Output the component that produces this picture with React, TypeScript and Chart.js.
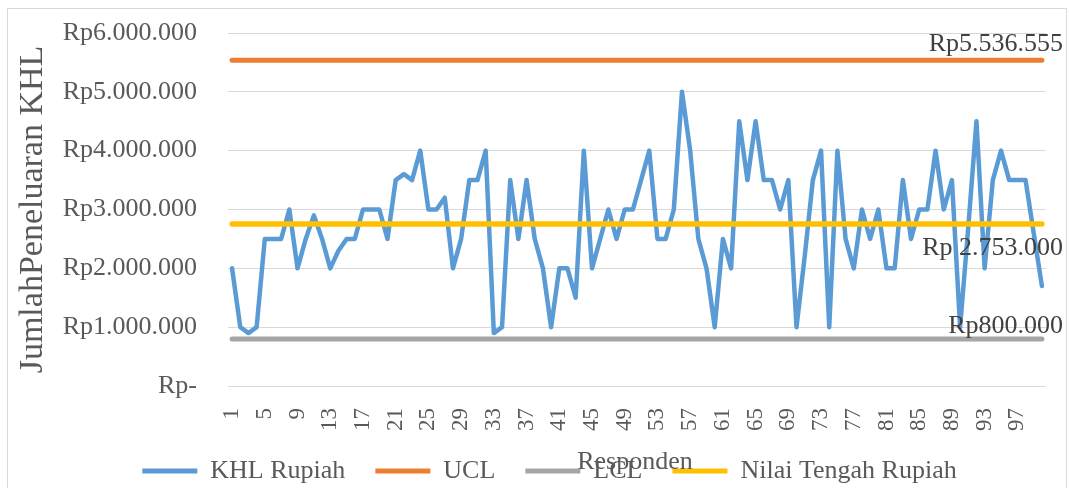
import React, { useEffect, useRef } from 'react';
import { Chart, registerables } from 'chart.js';

Chart.register(...registerables);

// ---- data ----
const respondents: string[] = Array.from({ length: 100 }, (_, i) => String(i + 1));
const xTickLabels: string[] = ['1', '5', '9', '13', '17', '21', '25', '29', '33', '37', '41', '45', '49', '53', '57', '61', '65', '69', '73', '77', '81', '85', '89', '93', '97'];

const khlRupiah: number[] = [
  2000000, 1000000, 900000, 1000000, 2500000, 2500000, 2500000, 3000000, 2000000, 2500000,
  2900000, 2500000, 2000000, 2300000, 2500000, 2500000, 3000000, 3000000, 3000000, 2500000,
  3500000, 3600000, 3500000, 4000000, 3000000, 3000000, 3200000, 2000000, 2500000, 3500000,
  3500000, 4000000, 900000, 1000000, 3500000, 2500000, 3500000, 2500000, 2000000, 1000000,
  2000000, 2000000, 1500000, 4000000, 2000000, 2500000, 3000000, 2500000, 3000000, 3000000,
  3500000, 4000000, 2500000, 2500000, 3000000, 5000000, 4000000, 2500000, 2000000, 1000000,
  2500000, 2000000, 4500000, 3500000, 4500000, 3500000, 3500000, 3000000, 3500000, 1000000,
  2200000, 3500000, 4000000, 1000000, 4000000, 2500000, 2000000, 3000000, 2500000, 3000000,
  2000000, 2000000, 3500000, 2500000, 3000000, 3000000, 4000000, 3000000, 3500000, 1000000,
  2700000, 4500000, 2000000, 3500000, 4000000, 3500000, 3500000, 3500000, 2600000, 1700000,
];
const uclValue = 5536555;
const lclValue = 800000;
const centerValue = 2753000;
const uclSeries: number[] = respondents.map(() => uclValue);
const lclSeries: number[] = respondents.map(() => lclValue);
const centerSeries: number[] = respondents.map(() => centerValue);

const seriesNames: string[] = ['KHL Rupiah', 'UCL', 'LCL', 'Nilai Tengah Rupiah'];
const endLabels: string[] = ['Rp5.536.555', 'Rp800.000', 'Rp 2.753.000'];
const yMin = 0;
const yMax = 6000000;
const yStep = 1000000;
const yTitle = 'JumlahPeneluaran KHL';
const xTitle = 'Responden';

const FONT = "'Liberation Serif', 'Times New Roman', serif";
const TEXT = '#595959';

const fmtRp = (v: number) =>
  v === 0 ? 'Rp-' : 'Rp' + String(Math.round(v)).replace(/\B(?=(\d{3})+(?!\d))/g, '.');

const extrasPlugin = {
  id: 'extras',
  afterDraw(chart: any) {
    const ctx = chart.ctx;
    ctx.save();
    ctx.font = `26px ${FONT}`;
    ctx.fillStyle = '#404040';
    ctx.textAlign = 'right';
    ctx.textBaseline = 'middle';
    const offsets = [-16, -13, 24];
    [1, 2, 3].forEach((di, k) => {
      const meta = chart.getDatasetMeta(di);
      const pt = meta.data[meta.data.length - 1];
      if (!pt) return;
      ctx.fillText(endLabels[k], chart.width - 6, pt.y + offsets[k]);
    });
    ctx.fillStyle = TEXT;
    ctx.textAlign = 'center';
    ctx.fillText(xTitle, 635, 462);
    ctx.restore();
  },
};

export default function App() {
  const ref = useRef<HTMLCanvasElement | null>(null);
  useEffect(() => {
    if (!ref.current) return;
    const chart = new Chart(ref.current, {
      type: 'line',
      data: {
        labels: respondents,
        datasets: [
          { label: seriesNames[0], data: khlRupiah, borderColor: '#5B9BD5', backgroundColor: '#5B9BD5', borderWidth: 4.5, order: 3 },
          { label: seriesNames[1], data: uclSeries, borderColor: '#ED7D31', backgroundColor: '#ED7D31', borderWidth: 5, order: 2 },
          { label: seriesNames[2], data: lclSeries, borderColor: '#A5A5A5', backgroundColor: '#A5A5A5', borderWidth: 5, order: 1 },
          { label: seriesNames[3], data: centerSeries, borderColor: '#FFC000', backgroundColor: '#FFC000', borderWidth: 5.5, order: 0 },
        ].map((d) => ({ ...d, pointRadius: 0, tension: 0, fill: false, borderCapStyle: 'round', borderJoinStyle: 'round' })) as any,
      },
      options: {
        animation: false,
        responsive: false,
        devicePixelRatio: 1,
        layout: { padding: { left: 53, right: 23, top: 33, bottom: -6 } },
        plugins: {
          tooltip: { enabled: false },
          legend: {
            position: 'bottom',
            labels: {
              font: { family: FONT, size: 26 },
              color: TEXT,
              boxWidth: 55,
              boxHeight: 5,
              padding: 30,
              generateLabels: (c: any) =>
                c.data.datasets.map((ds: any, i: number) => ({
                  text: ds.label,
                  fillStyle: ds.borderColor,
                  strokeStyle: ds.borderColor,
                  lineWidth: 0,
                  hidden: false,
                  datasetIndex: i,
                  fontColor: TEXT,
                })),
            },
          },
        },
        scales: {
          x: {
            offset: true,
            grid: { display: false, drawTicks: false },
            border: { display: false },
            ticks: {
              autoSkip: false,
              minRotation: 90,
              maxRotation: 90,
              padding: 22,
              color: TEXT,
              font: { family: FONT, size: 23 },
              callback: (_v: any, i: number) => (xTickLabels.includes(respondents[i]) ? respondents[i] : ''),
            },
            afterFit: (s: any) => {
              s.height = 42;
              s.paddingLeft = 0;
              s.paddingRight = 0;
              s._computeLabelArea = () => undefined;
            },
          },
          y: {
            min: yMin,
            max: yMax,
            grid: { color: '#D9D9D9', lineWidth: 1, drawTicks: false },
            border: { display: false },
            ticks: {
              stepSize: yStep,
              padding: 31,
              color: TEXT,
              font: { family: FONT, size: 26 },
              callback: (v: any) => fmtRp(Number(v)),
            },
            title: {
              display: true,
              text: yTitle,
              color: TEXT,
              font: { family: FONT, size: 34 },
              padding: { top: -40, bottom: 0 },
            },
            afterFit: (s: any) => {
              s.width = 175;
              s.paddingTop = 0;
              s.paddingBottom = 0;
            },
          },
        },
      },
      plugins: [extrasPlugin],
    });
    return () => chart.destroy();
  }, []);

  return (
    <div style={{ position: 'absolute', left: 0, top: 0, width: 1069, height: 488, overflow: 'hidden', background: '#fff' }}>
      <div
        style={{
          position: 'absolute',
          left: 7,
          top: 8,
          width: 1058,
          height: 480,
          borderLeft: '1px solid #D9D9D9',
          borderTop: '1px solid #D9D9D9',
          borderRight: '1px solid #D9D9D9',
        }}
      />
      <canvas ref={ref} width={1069} height={488} style={{ position: 'absolute', left: 0, top: 0, width: 1069, height: 488 }} />
    </div>
  );
}
